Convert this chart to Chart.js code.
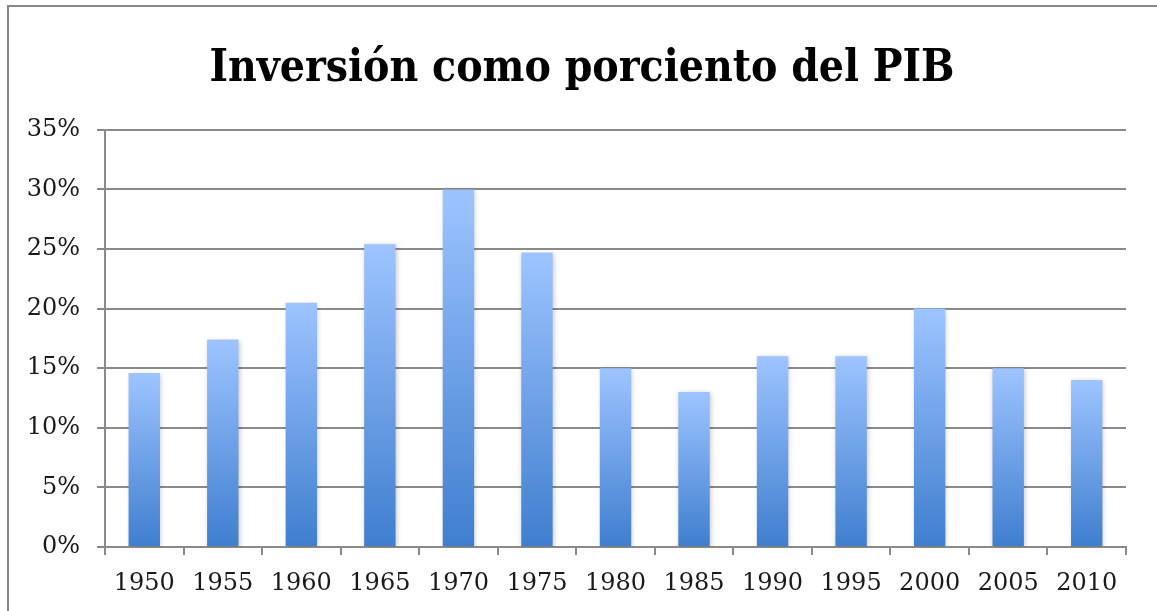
<!DOCTYPE html>
<html>
<head>
<meta charset="utf-8">
<script src="https://cdn.jsdelivr.net/npm/chart.js@4"></script>
<style>
    html, body { margin: 0; padding: 0; background: #fff; }
    #wrap { position: relative; width: 1157px; height: 611px; overflow: hidden; }
    #frame { position: absolute; left: 7px; top: 5px; width: 1200px; height: 700px; border: 2px solid #888; box-sizing: border-box; }
    #chart { position: absolute; left: 0; top: 0; }
</style>
</head>
<body>
<div id="wrap">
    <div id="frame"></div>
    <canvas id="chart" width="1157" height="611"></canvas>
</div>
<script>
const years = ['1950', '1955', '1960', '1965', '1970', '1975', '1980', '1985', '1990', '1995', '2000', '2005', '2010'];
const inversion = [14.6, 17.4, 20.5, 25.4, 30.0, 24.7, 15.0, 13.0, 16.0, 16.0, 20.0, 15.0, 14.0];
const yTicks = [0, 5, 10, 15, 20, 25, 30, 35];

const tickFont = { family: 'DejaVu Serif', size: 24 };

// gradient per bar, light on top, darker at the base
function barFill(context) {
    const chart = context.chart;
    const area = chart.chartArea;
    if (!area || context.parsed == null) return '#6a9ee8';
    const yScale = chart.scales.y;
    const top = yScale.getPixelForValue(context.parsed.y);
    const bottom = yScale.getPixelForValue(0);
    const g = chart.ctx.createLinearGradient(0, top, 0, bottom);
    g.addColorStop(0, '#9dc4ff');
    g.addColorStop(1, '#3f7ecf');
    return g;
}

const barShadow = {
    id: 'barShadow',
    beforeDatasetsDraw(chart) {
        const ctx = chart.ctx;
        ctx.save();
        ctx.shadowColor = 'rgba(0,0,0,0.22)';
        ctx.shadowBlur = 5;
        ctx.shadowOffsetX = 1;
        ctx.shadowOffsetY = 1;
    },
    afterDatasetsDraw(chart) {
        chart.ctx.restore();
    }
};

new Chart(document.getElementById('chart').getContext('2d'), {
    type: 'bar',
    data: {
        labels: years,
        datasets: [{
            label: 'Inversión',
            data: inversion,
            backgroundColor: barFill,
            borderWidth: 0,
            barPercentage: 0.4,
            categoryPercentage: 1
        }]
    },
    plugins: [barShadow],
    options: {
        responsive: false,
        animation: false,
        layout: { padding: { left: 7, right: 0, top: 0, bottom: 0 } },
        plugins: {
            legend: { display: false },
            tooltip: { enabled: false },
            title: {
                display: true,
                text: 'Inversión como porciento del PIB',
                color: '#000',
                font: { family: 'DejaVu Serif Condensed', size: 44, weight: 'bold' },
                padding: { top: 43, bottom: 34 }
            }
        },
        scales: {
            x: {
                grid: {
                    offset: true,
                    drawOnChartArea: false,
                    drawTicks: true,
                    tickLength: 8,
                    color: '#8a8a8a',
                    lineWidth: 2
                },
                border: { color: '#8a8a8a', width: 2 },
                ticks: { color: '#1a1a1a', font: tickFont, padding: 14, maxRotation: 0 },
                afterFit(scale) { scale.height = 64; }
            },
            y: {
                min: 0,
                max: 35,
                afterBuildTicks(scale) { scale.ticks = yTicks.map(v => ({ value: v })); },
                grid: { color: '#8a8a8a', lineWidth: 2, tickLength: 8 },
                border: { color: '#8a8a8a', width: 2 },
                ticks: {
                    color: '#1a1a1a',
                    font: tickFont,
                    padding: 17,
                    callback: v => v + '%'
                },
                afterFit(scale) { scale.width = 98; }
            },
            // empty right-hand axis, only keeps room right of the plot
            spacer: {
                type: 'linear',
                position: 'right',
                grid: { display: false },
                border: { display: false },
                ticks: { display: false },
                afterFit(scale) { scale.width = 31; }
            }
        }
    }
});
</script>
</body>
</html>
